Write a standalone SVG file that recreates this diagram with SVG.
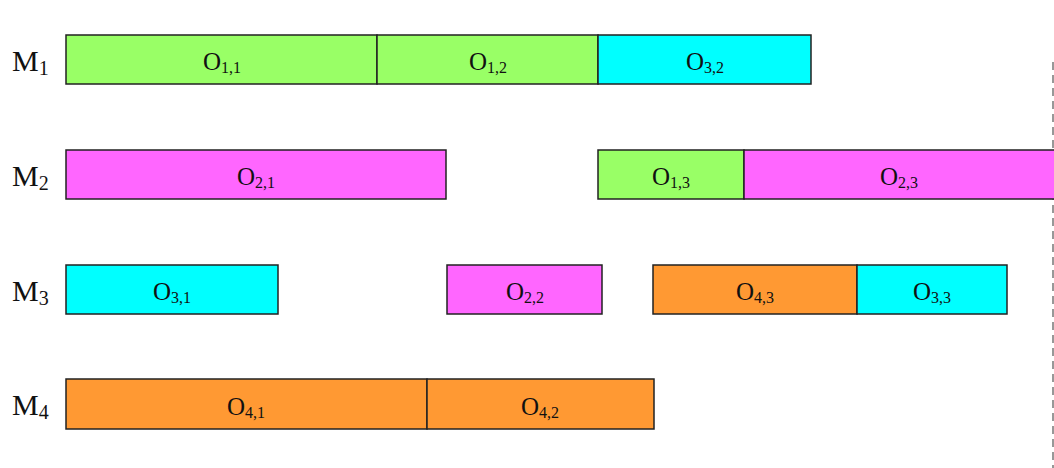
<svg xmlns="http://www.w3.org/2000/svg" width="1054" height="468" viewBox="0 0 1054 468">
<style>
.b{stroke:#222;stroke-width:1.5}
.g{fill:#99FF66}.m{fill:#FF66FF}.c{fill:#00FFFF}.o{fill:#FF9933}
text{font-family:"Liberation Serif","Times New Roman",serif;fill:#111}
.t{font-size:25px;text-anchor:middle}
.lbl{font-size:30px}
.s{font-size:16px}
.ls{font-size:20px}
</style>
<rect width="1054" height="468" fill="#fff"/>
<line x1="1053" y1="62" x2="1053" y2="468" stroke="#777" stroke-width="1.5" stroke-dasharray="8,5"/>
<g id="labels">
<text class="lbl" x="12" y="71">M<tspan class="ls" dy="4">1</tspan></text>
<text class="lbl" x="12" y="186">M<tspan class="ls" dy="4">2</tspan></text>
<text class="lbl" x="12" y="301">M<tspan class="ls" dy="4">3</tspan></text>
<text class="lbl" x="12" y="415">M<tspan class="ls" dy="4">4</tspan></text>
</g>
<g id="o11"><rect class="b g" x="66" y="35" width="311" height="49"/><text class="t" x="222" y="70">O<tspan class="s" dy="3">1,1</tspan></text></g>
<g id="o12"><rect class="b g" x="377" y="35" width="221" height="49"/><text class="t" x="488" y="70">O<tspan class="s" dy="3">1,2</tspan></text></g>
<g id="o32"><rect class="b c" x="598" y="35" width="213" height="49"/><text class="t" x="705" y="70">O<tspan class="s" dy="3">3,2</tspan></text></g>
<g id="o21"><rect class="b m" x="66" y="150" width="380" height="49"/><text class="t" x="256" y="185">O<tspan class="s" dy="3">2,1</tspan></text></g>
<g id="o13"><rect class="b g" x="598" y="150" width="146" height="49"/><text class="t" x="671" y="185">O<tspan class="s" dy="3">1,3</tspan></text></g>
<g id="o23"><rect class="b m" x="744" y="150" width="312" height="49"/><text class="t" x="899" y="185">O<tspan class="s" dy="3">2,3</tspan></text></g>
<g id="o31"><rect class="b c" x="66" y="265" width="212" height="49"/><text class="t" x="172" y="300">O<tspan class="s" dy="3">3,1</tspan></text></g>
<g id="o22"><rect class="b m" x="447" y="265" width="155" height="49"/><text class="t" x="525" y="300">O<tspan class="s" dy="3">2,2</tspan></text></g>
<g id="o43"><rect class="b o" x="653" y="265" width="204" height="49"/><text class="t" x="755" y="300">O<tspan class="s" dy="3">4,3</tspan></text></g>
<g id="o33"><rect class="b c" x="857" y="265" width="150" height="49"/><text class="t" x="932" y="300">O<tspan class="s" dy="3">3,3</tspan></text></g>
<g id="o41"><rect class="b o" x="66" y="379" width="361" height="50"/><text class="t" x="246" y="415">O<tspan class="s" dy="3">4,1</tspan></text></g>
<g id="o42"><rect class="b o" x="427" y="379" width="227" height="50"/><text class="t" x="540" y="415">O<tspan class="s" dy="3">4,2</tspan></text></g>
<g id="connectors"></g>
</svg>
